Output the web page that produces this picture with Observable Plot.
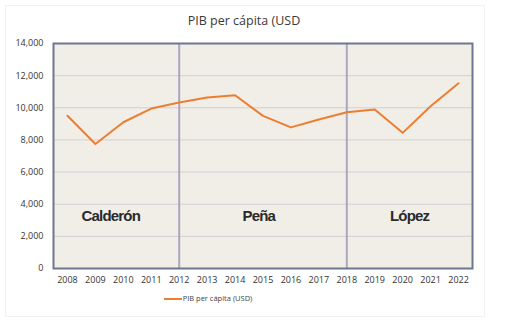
<!DOCTYPE html>
<html><head><meta charset="utf-8">
<script src="https://cdn.jsdelivr.net/npm/d3@7"></script>
<script src="https://cdn.jsdelivr.net/npm/@observablehq/plot@0.6"></script>
<style>
body{margin:0;background:#fff;font-family:"Open Sans",sans-serif;}
#wrap{position:relative;width:506px;height:323px;}
#box{position:absolute;left:5px;top:5px;width:478px;height:310px;border:1px solid #f2f2f2;}
#title{position:absolute;left:0;top:12px;width:488px;text-align:center;font-size:12.5px;color:#3a3a3a;}
#chart{position:absolute;left:0;top:33px;}
#legend{position:absolute;left:0;top:293px;width:416px;text-align:center;font-size:7.5px;color:#444;}
#legend span.sw{display:inline-block;width:18px;height:2.5px;background:#ed7d31;vertical-align:middle;margin-right:1px;}
.pres text{letter-spacing:-0.8px;}
</style></head>
<body><div id="wrap"><div id="box"></div><div id="title">PIB per cápita (USD</div><div id="chart"></div>
<div id="legend"><span class="sw"></span>PIB per cápita (USD)</div></div>
<script>
const years = [2008,2009,2010,2011,2012,2013,2014,2015,2016,2017,2018,2019,2020,2021,2022];
const gdp = [9500,7750,9100,9950,10330,10640,10780,9500,8780,9270,9720,9900,8440,10100,11530];
const yTicks = [0,2000,4000,6000,8000,10000,12000,14000];
const dividers = [2012,2018];
const presidents = ["Calderón","Peña","López"];
const presidentX = [2009.55,2014.85,2020.25];
const presidentY = [3250,3250,3250];

const series = years.map((y,i)=>({year:y,value:gdp[i]}));
const labels = presidents.map((p,i)=>({name:p,x:presidentX[i],y:presidentY[i]}));

const chart = Plot.plot({
  width:506, height:258,
  marginLeft:53, marginRight:34, marginTop:10, marginBottom:23,
  style:{fontFamily:"Open Sans, sans-serif", fontSize:"9px", color:"#333", background:"transparent"},
  x:{domain:[2007.5,2022.5], ticks:years, tickFormat:d=>String(d), tickSize:0, tickPadding:8, label:null},
  y:{domain:[0,14000], ticks:yTicks, tickFormat:d3.format(","), tickSize:0, tickPadding:10, label:null},
  marks:[
    Plot.frame({fill:"#f1eee8"}),
    Plot.ruleY(yTicks,{stroke:"#d3cfd3",strokeWidth:1}),
    Plot.ruleX(dividers,{stroke:"#a8a7be",strokeWidth:2}),
    Plot.line(series,{x:"year",y:"value",stroke:"#ed7d31",strokeWidth:2}),
    Plot.text(labels,{x:"x",y:"y",text:"name",className:"pres",fontFamily:"Liberation Sans, Arial, sans-serif",fontWeight:"bold",fontSize:15,fill:"#2a2a2a"}),
    Plot.frame({stroke:"#6e7792",strokeWidth:2})
  ]
});
document.getElementById("chart").appendChild(chart);
</script></body></html>
